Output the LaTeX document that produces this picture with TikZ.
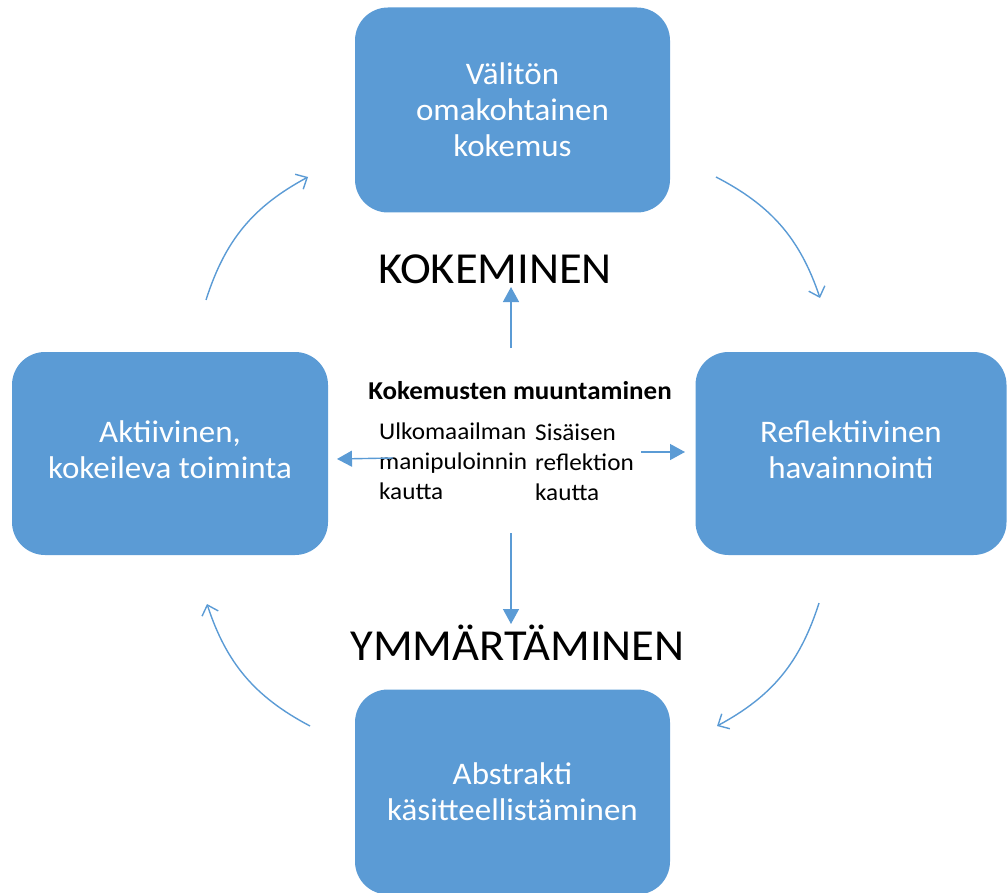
\documentclass[tikz,border=0pt]{standalone}
\usepackage{fontspec}
\setmainfont{Carlito}[FakeStretch=1.05]
\usetikzlibrary{arrows.meta}
\definecolor{boxblue}{HTML}{5B9BD5}
\newcommand{\liftstrut}{\rule[-7pt]{0pt}{7pt}}
\tikzset{
  bluebox/.style={fill=boxblue, draw=none, rounded corners=33pt, text=white, align=center,
    font=\fontsize{31.4}{36}\selectfont, inner sep=0pt},
  cyclearrow/.style={draw=boxblue, line width=1.4pt, -{Straight Barb[length=9pt,width=17pt,line width=1.4pt]}, bend left=22},
  centerarrow/.style={draw=boxblue, line width=1.4pt, -{Triangle[length=15pt,width=16pt]}},
  bigword/.style={font=\fontsize{44.3}{50}\selectfont, text=black, inner sep=0pt, anchor=base},
  smalltext/.style={font=\fontsize{24}{30}\selectfont, align=left, inner sep=0pt, anchor=base west},
}
\begin{document}
\begin{tikzpicture}[x=1pt,y=-1pt]
\useasboundingbox (0,0) rectangle (1008,893);
% boxes
\node[bluebox, minimum width=315pt, minimum height=205pt] (top) at (512.5,110) {Välitön\\omakohtainen\\kokemus};
\node[bluebox, minimum width=316pt, minimum height=203pt] (left) at (170,453.5) {Aktiivinen,\\kokeileva toiminta\liftstrut};
\node[bluebox, minimum width=311pt, minimum height=203pt] (right) at (851,453.5) {Reflektiivinen\\havainnointi\liftstrut};
\node[bluebox, minimum width=315pt, minimum height=205pt] (bottom) at (512.5,792) {Abstrakti\\käsitteellistäminen};
% big words
\node[bigword] (kok) at (495,283) {KOKEMINEN};
\node[bigword] (ymm) at (517.5,660) {YMMÄRTÄMINEN};
% center texts
\node[font=\fontsize{25.7}{30}\selectfont\bfseries, inner sep=0pt, anchor=base] (muunt) at (520,399) {Kokemusten muuntaminen};
\node[smalltext] (ulko) at (379,499.5) {Ulkomaailman\\manipuloinnin\\kautta};
\node[smalltext] (sis) at (535,500.5) {Sisäisen\\reflektion\\kautta};
% cycle arrows
\coordinate (a1s) at (206,300); \coordinate (a1e) at (308,177);
\coordinate (a2s) at (716,177); \coordinate (a2e) at (820,298);
\coordinate (a3s) at (819,603); \coordinate (a3e) at (717,726);
\coordinate (a4s) at (310,726); \coordinate (a4e) at (207,604);
\draw[cyclearrow] (a1s) to (a1e);
\draw[cyclearrow] (a2s) to (a2e);
\draw[cyclearrow] (a3s) to (a3e);
\draw[cyclearrow] (a4s) to (a4e);
% center arrows
\coordinate (upS) at (511,348); \coordinate (upE) at (511,287);
\coordinate (dnS) at (511,533); \coordinate (dnE) at (511,624);
\coordinate (lfS) at (393,458); \coordinate (lfE) at (337,459);
\coordinate (rtS) at (641,452); \coordinate (rtE) at (685,452);
\draw[centerarrow] (upS) -- (upE);
\draw[centerarrow] (dnS) -- (dnE);
\draw[centerarrow] (lfS) -- (lfE);
\draw[centerarrow] (rtS) -- (rtE);
\end{tikzpicture}
\end{document}
